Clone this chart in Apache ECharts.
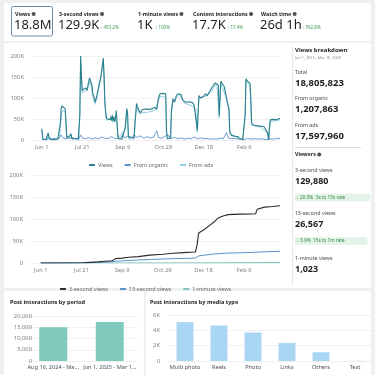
<!DOCTYPE html>
<html>
<head>
<meta charset="utf-8">
<script src="https://cdn.jsdelivr.net/npm/echarts@6/dist/echarts.min.js"></script>
<style>
  html, body { margin: 0; padding: 0; background: #eff0f2; }
  #chart { width: 375px; height: 375px; }
</style>
</head>
<body>
<div id="chart"></div>
<script>
// KPI strip
const kpiNames = ["Views", "3-second views", "1-minute views", "Content interactions", "Watch time"];
const kpiValues = ["18.8M", "129.9K", "1K", "17.7K", "26d 1h"];
const kpiChanges = ["", "↑ 453.2%", "↑ 100%", "↑ 17.4%", "↑ 562.8%"];

// x axis ticks (days since Jun 1, 2025)
const dayTicks = [0, 50, 100, 150, 200, 250];
const dayLabels = ["Jun 1", "Jul 21", "Sep 9", "Oct 29", "Dec 18", "Feb 6"];

// views per day, in thousands: [day, value]
const viewsData = [
  [0,27],[1,8],[2,1],[5,0],[7,2],[8,17],[9,6],[10,2],[12,1],[14,4],[16,1],[18,5],[20,3],[22,6],
  [23,40],[24,76],[25,81],[27,78],[29,74],[30,40],[31,6],[33,4],[35,10],[36,15],[37,5],[39,8],
  [41,3],[43,6],[45,2],[46,5],[47,60],[48,200],[49,150],[50,118],[51,122],[52,117],[54,124],
  [56,118],[57,130],[59,148],[61,147],[62,130],[63,110],[65,100],[66,90],[68,105],[70,125],
  [71,134],[73,150],[75,180],[76,195],[77,150],[78,87],[79,65],[80,51],[82,52],[84,48],[85,55],
  [86,46],[87,60],[88,45],[89,55],[90,44],[91,52],[92,70],[93,40],[94,10],[95,3],[97,6],[99,2],
  [101,4],[103,30],[105,75],[106,62],[107,8],[109,4],[111,6],[113,3],[114,5],[115,40],[117,87],
  [118,80],[120,70],[122,65],[124,72],[126,70],[128,74],[130,71],[132,73],[134,70],[136,74],
  [138,72],[140,78],[142,73],[144,100],[146,110],[148,108],[150,111],[152,109],[153,110],[154,20],
  [155,3],[157,2],[159,5],[160,70],[162,98],[164,90],[166,105],[168,110],[170,114],[172,108],
  [174,95],[176,92],[178,90],[180,88],[182,91],[184,87],[186,89],[188,83],[190,80],[192,23],
  [193,70],[194,106],[196,100],[198,96],[200,104],[202,110],[204,105],[206,112],[208,118],
  [210,125],[212,130],[214,136],[216,140],[218,130],[219,58],[220,100],[221,140],[223,138],
  [225,128],[227,110],[229,90],[230,83],[231,75],[232,20],[234,11],[236,12],[238,9],[240,12],
  [242,8],[244,3],[246,2],[248,1],[250,2],[251,60],[252,146],[254,140],[256,138],[257,135],
  [258,100],[259,40],[260,37],[262,35],[264,36],[266,34],[268,36],[270,33],[272,35],[274,32],
  [276,28],[278,20],[279,15],[280,0],[281,30],[282,48],[284,46],[286,49],[288,47],[290,48],
  [292,50],[294,52]
];
const organicData = [
  [0,2],[4,1],[8,3],[12,2],[16,4],[20,2],[24,12],[26,5],[30,3],[34,6],[38,2],[42,4],[46,3],
  [48,12],[50,5],[54,3],[58,6],[62,2],[66,5],[70,3],[74,7],[78,4],[82,3],[86,8],[90,4],[94,3],
  [98,6],[100,14],[102,5],[106,9],[110,4],[114,12],[118,6],[122,10],[126,4],[130,8],[134,5],
  [138,7],[142,22],[144,6],[148,4],[152,9],[156,12],[160,4],[164,6],[168,3],[172,5],[176,2],
  [180,4],[184,3],[188,7],[192,3],[196,5],[200,3],[204,4],[208,2],[212,3],[216,2],[220,4],
  [224,3],[228,18],[230,5],[234,3],[238,4],[242,2],[246,3],[250,1],[254,4],[258,2],[262,3],
  [266,2],[270,3],[274,2],[278,1],[282,3],[286,2],[290,4],[294,3]
];
const adsData = [
  [0,24],[2,0],[7,1],[8,14],[10,1],[22,3],[23,36],[25,70],[29,68],[30,35],[31,3],[36,6],[46,2],
  [47,55],[48,188],[50,112],[54,118],[57,124],[60,140],[63,104],[66,85],[71,127],[76,186],[78,82],
  [80,47],[85,50],[88,42],[91,48],[93,36],[94,6],[103,24],[105,68],[107,3],[114,2],[115,34],
  [117,80],[120,63],[124,65],[130,66],[136,68],[140,71],[144,94],[146,104],[153,102],[154,15],
  [159,2],[160,64],[162,92],[170,107],[176,88],[184,82],[190,75],[192,18],[194,100],[202,104],
  [208,112],[216,135],[219,52],[221,134],[227,104],[231,70],[232,15],[240,8],[248,0],[251,55],
  [252,140],[257,130],[259,35],[270,30],[278,17],[280,0],[282,44],[294,48]
];

// cumulative viewers, in thousands
const sec3Data = [
  [0,0],[20,0],[52,0.5],[60,1.5],[70,2.5],[80,4],[88,5],[90,8],[92,10],[100,11],[108,13],
  [120,14.5],[134,18],[150,20],[163,22],[175,23.5],[190,25],[192,40],[194,68],[200,75],[208,86],
  [214,95],[218,102],[224,107],[230,110],[245,111],[260,111.5],[264,112],[266,122],[268,125],
  [275,127],[285,128.5],[294,130]
];
const sec15Data = [
  [0,0],[40,0],[60,0.8],[75,1.8],[89,3],[92,4],[110,6],[134,8],[163,10],[190,11],[192,14],
  [194,16],[210,20],[230,22.5],[260,24],[275,25.5],[294,26.6]
];
const min1Data = [[0,0],[100,0.1],[190,0.3],[220,0.6],[294,1.0]];

// bottom bar charts
const periodCats = ["Aug 16, 2024 - Ma...", "Jun 1, 2025 - Mar 1..."];
const periodValues = [15000, 17300];
const mediaCats = ["Multi photo", "Reels", "Photo", "Links", "Others", "Text"];
const mediaValues = [5080, 4630, 3720, 2360, 1140, 30];

// right panel
const breakdownLabels = ["Total", "From organic", "From ads"];
const breakdownValues = ["18,805,823", "1,207,863", "17,597,960"];
const viewerLabels = ["3-second views", "15-second views", "1-minute views"];
const viewerValues = ["129,880", "26,567", "1,023"];
const rateValues = ["↓ 20.5%", "↓ 3.9%"];
const rateLabels = ["3s to 15s rate", "15s to 1m rate"];

const FONT = "Noto Sans";
const DARK = "#1c1e21";
const GRAY = "#65676b";
const AXIS = "#7d8086";

const chart = echarts.init(document.getElementById("chart"));

function txt(x, y, text, size, color, weight, extra) {
  return {
    type: "text", x: x, y: y, z: 100,
    style: Object.assign({
      text: text, fontSize: size, fill: color, fontWeight: weight || "normal",
      fontFamily: FONT, verticalAlign: "middle"
    }, extra || {})
  };
}

// a label with the little dark info dot after it
function infoTxt(x, y, text, size) {
  return txt(x, y, "{n|" + text + "} {i|}", size, DARK, "bold", {
    rich: {
      n: { fontSize: size, fontWeight: "bold", fill: DARK, fontFamily: FONT },
      i: { width: 4, height: 4, backgroundColor: "#4b4f56", borderRadius: 2 }
    }
  });
}

const graphics = [];
// cards
[[4, 3, 367, 38], [4, 43, 367, 245], [4, 291, 140, 84], [146, 291, 225, 84]].forEach(function (r) {
  graphics.push({ type: "rect", z: -10, shape: { x: r[0], y: r[1], width: r[2], height: r[3], r: 2 },
    style: { fill: "#ffffff" } });
});
// selected KPI box
graphics.push({ type: "rect", z: 1, shape: { x: 11.5, y: 6.5, width: 41, height: 29.5, r: 2 },
  style: { fill: "none", stroke: "#6a8bb0", lineWidth: 1 } });

const kpiX = [15, 59, 138, 193, 261];
const changeX = [0, 100, 155, 227, 302];
kpiNames.forEach(function (n, i) {
  graphics.push(infoTxt(kpiX[i], 14, n, 5.3));
  graphics.push(txt(kpiX[i] - 1, 25.5, kpiValues[i], 13, DARK, "normal"));
  if (kpiChanges[i]) graphics.push(txt(changeX[i], 27.5, kpiChanges[i], 4.5, "#3a9a52", "normal"));
});

// right breakdown panel
graphics.push({ type: "line", z: 1, shape: { x1: 292.5, y1: 46, x2: 292.5, y2: 286 },
  style: { stroke: "#e4e6eb", lineWidth: 1 } });
graphics.push(txt(295, 50, "Views breakdown", 6, DARK, "bold"));
graphics.push(txt(295, 58, "Jun 1, 2025 - Mar 16, 2026", 3.8, "#8a8d91", "normal"));
const bdY = [72, 98, 125];
breakdownLabels.forEach(function (l, i) {
  graphics.push(txt(295, bdY[i], l, 5.3, "#444950", "normal"));
  graphics.push(txt(295, bdY[i] + 11, breakdownValues[i], 9.5, DARK, "bold"));
});
graphics.push({ type: "line", z: 1, shape: { x1: 295, y1: 147.5, x2: 361, y2: 147.5 },
  style: { stroke: "#dadde1", lineWidth: 1 } });
graphics.push(infoTxt(295, 154.5, "Viewers", 5.3));
const vwY = [170, 213, 258];
viewerLabels.forEach(function (l, i) {
  graphics.push(txt(295, vwY[i], l, 5.3, "#444950", "normal"));
  graphics.push(txt(295, vwY[i] + 11.5, viewerValues[i], 9, DARK, "bold"));
});
const badgeY = [197.5, 241];
const badgeW = [76, 73];
rateValues.forEach(function (v, i) {
  graphics.push({ type: "rect", z: 1, shape: { x: 294.5, y: badgeY[i] - 3.8, width: badgeW[i], height: 7.6, r: 2 },
    style: { fill: "#e4f3e7" } });
  graphics.push(txt(296.5, badgeY[i], "{a|" + v + "}  {b|" + rateLabels[i] + "}", 4.7, "#2f8a47", "normal", {
    rich: {
      a: { fontSize: 4.7, fill: "#2f8a47", fontFamily: FONT },
      b: { fontSize: 4.7, fill: "#2f8a47", fontFamily: FONT }
    }
  }));
});

// bottom titles
graphics.push(txt(10, 302.5, "Post interactions by period", 5.6, DARK, "bold"));
graphics.push(txt(150, 302.5, "Post interactions by media type", 5.6, DARK, "bold"));

const axisLabelBase = { fontSize: 5.8, color: AXIS, fontFamily: FONT };
const splitBase = { show: true, lineStyle: { color: "#e9eaec", width: 0.7 } };

function dayAxis(gridIndex) {
  return {
    type: "value", gridIndex: gridIndex, min: -12, max: 294,
    axisLine: { show: false }, axisTick: { show: false }, splitLine: { show: false },
    axisLabel: Object.assign({}, axisLabelBase, {
      margin: 4,
      customValues: dayTicks,
      formatter: function (v) { const k = dayTicks.indexOf(v); return k < 0 ? "" : dayLabels[k]; }
    })
  };
}
function kAxis(gridIndex, max, interval, margin, fmt) {
  return {
    type: "value", gridIndex: gridIndex, min: 0, max: max, interval: interval,
    axisLine: { show: false }, axisTick: { show: false }, splitLine: splitBase,
    axisLabel: Object.assign({}, axisLabelBase, { margin: margin, formatter: fmt })
  };
}
const kFmt = function (v) { return v === 0 ? "0" : v + "K"; };

function lineSeries(name, data, xi, color, width, z) {
  return {
    name: name, type: "line", xAxisIndex: xi, yAxisIndex: xi, data: data,
    showSymbol: false, symbol: "none", z: z, silent: true,
    lineStyle: { color: color, width: width }, itemStyle: { color: color }
  };
}

chart.setOption({
  animation: false,
  textStyle: { fontFamily: FONT },
  graphic: { elements: graphics },
  grid: [
    { left: 32, right: 95, top: 56, height: 84 },
    { left: 31, right: 95, top: 175, height: 88 },
    { left: 25, width: 113, top: 316, height: 45 },
    { left: 168, width: 204, top: 315, height: 46 }
  ],
  legend: [
    {
      data: ["Views", "From organic", "From ads"], left: 84, top: 157,
      itemWidth: 6, itemHeight: 2, itemGap: 12, icon: "roundRect",
      textStyle: { fontSize: 5.5, color: GRAY, fontFamily: FONT, padding: [0, 0, 0, -2] }
    },
    {
      data: ["3-second views", "15-second views", "1-minute views"], left: 55, top: 281,
      itemWidth: 6, itemHeight: 2, itemGap: 12, icon: "roundRect",
      textStyle: { fontSize: 5.5, color: GRAY, fontFamily: FONT, padding: [0, 0, 0, -2] }
    }
  ],
  xAxis: [
    dayAxis(0),
    dayAxis(1),
    {
      type: "category", gridIndex: 2, data: periodCats,
      axisLine: { show: false }, axisTick: { show: false },
      axisLabel: Object.assign({}, axisLabelBase, { fontSize: 5.6, color: "#4b4f56", margin: 3, interval: 0 })
    },
    {
      type: "category", gridIndex: 3, data: mediaCats,
      axisLine: { show: false }, axisTick: { show: false },
      axisLabel: Object.assign({}, axisLabelBase, { fontSize: 5.6, color: "#4b4f56", margin: 3, interval: 0 })
    }
  ],
  yAxis: [
    kAxis(0, 200, 50, 8, kFmt),
    kAxis(1, 200, 50, 8, kFmt),
    kAxis(2, 20000, 5000, -7, function (v) { return v.toLocaleString("en-US"); }),
    kAxis(3, 6000, 2000, 8, function (v) { return v === 0 ? "0" : (v / 1000) + "K"; })
  ],
  series: [
    lineSeries("Views", viewsData, 0, "#2a7f8c", 1.1, 5),
    lineSeries("From organic", organicData, 0, "#5a93cc", 0.9, 4),
    lineSeries("From ads", adsData, 0, "#93cde3", 1, 3),
    lineSeries("3-second views", sec3Data, 1, "#2b2b2b", 1.1, 5),
    lineSeries("15-second views", sec15Data, 1, "#5a93cc", 1, 4),
    lineSeries("1-minute views", min1Data, 1, "#7cc6bd", 1, 3),
    {
      type: "bar", xAxisIndex: 2, yAxisIndex: 2, data: periodValues, barWidth: 28, silent: true,
      itemStyle: { color: "#80cabd" }
    },
    {
      type: "bar", xAxisIndex: 3, yAxisIndex: 3, data: mediaValues, barWidth: 17, silent: true,
      itemStyle: { color: "#a9d7f3" }
    }
  ]
});
</script>
</body>
</html>
